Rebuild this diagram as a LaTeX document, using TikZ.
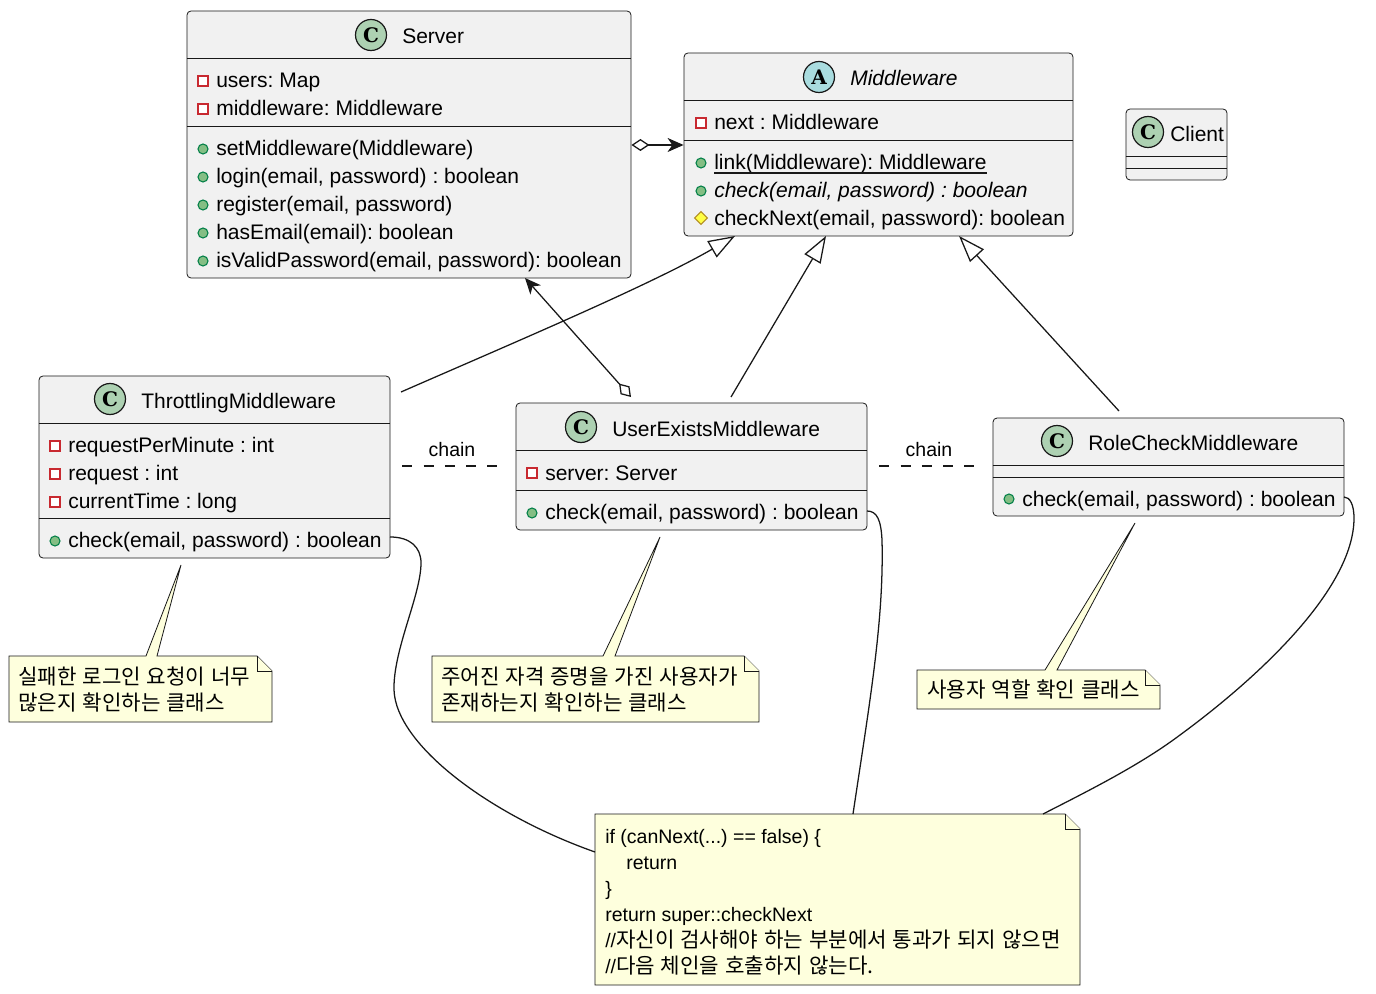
\documentclass[tikz,border=0pt]{standalone}
\usepackage{fontspec}
\setmainfont{Liberation Sans}
\newfontfamily\krfont[Scale=1.087, WordSpace=1.23]{Noto Sans CJK KR}
\newfontfamily\markfont{DejaVu Serif}
\usepackage{xcolor}
\usepackage{tikz}
\usetikzlibrary{arrows.meta, fit, shapes.geometric}
\definecolor{boxfill}{HTML}{F1F1F1}
\definecolor{ligne}{HTML}{181818}
\definecolor{markC}{HTML}{ADD1B2}
\definecolor{markA}{HTML}{A9DCDF}
\definecolor{notefill}{HTML}{FEFFDD}
\definecolor{privred}{HTML}{C82930}
\definecolor{pubgreen}{HTML}{038048}
\definecolor{pubfill}{HTML}{84BE84}
\definecolor{protgold}{HTML}{B38D22}
\definecolor{protfill}{HTML}{FFFF44}
\tikzset{
	classbox/.style={draw=ligne, fill=boxfill, line width=0.6pt, rounded corners=3pt, inner sep=0pt},
	divider/.style={draw=ligne, line width=0.6pt},
	classmark/.style={circle, draw=ligne, line width=0.9pt, minimum size=23.25pt, inner sep=0pt, font=\fontsize{15}{15}\selectfont\markfont\bfseries},
	title/.style={anchor=base west, inner sep=0pt, font=\fontsize{15.75}{18}\selectfont\frenchspacing},
	member/.style={anchor=base west, inner sep=0pt, font=\fontsize{15.78}{18}\selectfont\frenchspacing},
	privicon/.style={rectangle, draw=privred, fill=white, line width=0.8pt, minimum size=7.5pt, inner sep=0pt},
	pubicon/.style={circle, draw=pubgreen, fill=pubfill, line width=0.8pt, minimum size=7.5pt, inner sep=0pt},
	proticon/.style={diamond, draw=protgold, fill=protfill, line width=0.8pt, minimum size=10pt, inner sep=0pt},
	notebox/.style={draw=ligne, fill=notefill, line width=0.6pt, line join=miter},
	notetext/.style={anchor=north west, inner sep=0pt, align=left, font=\fontsize{14.625}{19.5}\selectfont\frenchspacing},
	lien/.style={draw=ligne, line width=0.95pt},
	chainlink/.style={lien, dash pattern=on 7.5pt off 8.44pt},
	chainlabel/.style={anchor=base, inner sep=0pt, font=\fontsize{14.625}{18}\selectfont},
	herite/.style={lien, -{Triangle[length=20pt, width=14pt, fill=white]}},
	agrege/.style={lien, {Diamond[length=13.5pt, width=9pt, fill=white]}-{Stealth[length=12pt, width=10.5pt, inset=3.5pt]}},
}
\begin{document}
\begin{tikzpicture}[x=0.75pt, y=-0.75pt]
	\useasboundingbox (0,0) rectangle (1376,994);

	% Server
	\node[classbox, fit={(187,11) (631,278)}] (server) {};
	\draw[divider] (server.west |- 0,58) -- (server.east |- 0,58);
	\draw[divider] (server.west |- 0,126) -- (server.east |- 0,126);
	\node[classmark, fill=markC] (serverMark) at (371,35) {C};
	\node[title] (serverTitle) at (402,44) {Server};
	\node[privicon] (srvUsersIcon) at (203,81) {};
	\node[member] (srvUsers) at (216,88) {users: Map};
	\node[privicon] (srvMiddleIcon) at (203,109) {};
	\node[member] (srvMiddle) at (216,116) {middleware: Middleware};
	\node[pubicon] (srvSetIcon) at (203,149) {};
	\node[member] (srvSet) at (216,156) {setMiddleware(Middleware)};
	\node[pubicon] (srvLoginIcon) at (203,177) {};
	\node[member] (srvLogin) at (216,184) {login(email, password) : boolean};
	\node[pubicon] (srvRegisterIcon) at (203,205) {};
	\node[member] (srvRegister) at (216,212) {register(email, password)};
	\node[pubicon] (srvHasIcon) at (203,233) {};
	\node[member] (srvHas) at (216,240) {hasEmail(email): boolean};
	\node[pubicon] (srvValidIcon) at (203,261) {};
	\node[member] (srvValid) at (216,268) {isValidPassword(email, password): boolean};

	% Middleware
	\node[classbox, fit={(684,53) (1073,236)}] (middleware) {};
	\draw[divider] (middleware.west |- 0,100) -- (middleware.east |- 0,100);
	\draw[divider] (middleware.west |- 0,140) -- (middleware.east |- 0,140);
	\node[classmark, fill=markA] (middlewareMark) at (819,77) {A};
	\node[title] (middlewareTitle) at (850,86) {\itshape Middleware};
	\node[privicon] (mwNextIcon) at (701,123) {};
	\node[member] (mwNext) at (714,130) {next : Middleware};
	\node[pubicon] (mwLinkIcon) at (701,163) {};
	\node[member] (mwLink) at (714,170) {link(Middleware): Middleware};
	\draw[lien] ([yshift=-2.2pt]mwLink.base west) -- ([yshift=-2.2pt]mwLink.base east);
	\node[pubicon] (mwCheckIcon) at (701,191) {};
	\node[member] (mwCheck) at (714,198) {\itshape check(email, password) : boolean};
	\node[proticon] (mwNextCheckIcon) at (701,218) {};
	\node[member] (mwNextCheck) at (714,226) {checkNext(email, password): boolean};

	% Client
	\node[classbox, fit={(1126,109) (1227,180)}] (client) {};
	\draw[divider] (client.west |- 0,156) -- (client.east |- 0,156);
	\draw[divider] (client.west |- 0,168) -- (client.east |- 0,168);
	\node[classmark, fill=markC] (clientMark) at (1148,132) {C};
	\node[title] (clientTitle) at (1170,142) {Client};

	% ThrottlingMiddleware
	\node[classbox, fit={(39,376) (390,558)}] (throttling) {};
	\draw[divider] (throttling.west |- 0,423) -- (throttling.east |- 0,423);
	\draw[divider] (throttling.west |- 0,518) -- (throttling.east |- 0,518);
	\node[classmark, fill=markC] (throttlingMark) at (110,399) {C};
	\node[title] (throttlingTitle) at (141,408) {ThrottlingMiddleware};
	\node[privicon] (thrRateIcon) at (55,446) {};
	\node[member] (thrRate) at (68,452) {requestPerMinute : int};
	\node[privicon] (thrRequestIcon) at (55,474) {};
	\node[member] (thrRequest) at (68,480) {request : int};
	\node[privicon] (thrTimeIcon) at (55,502) {};
	\node[member] (thrTime) at (68,508) {currentTime : long};
	\node[pubicon] (thrCheckIcon) at (55,541) {};
	\node[member] (thrCheck) at (68,547) {check(email, password) : boolean};

	% UserExistsMiddleware
	\node[classbox, fit={(516,403) (867,530)}] (userExists) {};
	\draw[divider] (userExists.west |- 0,450) -- (userExists.east |- 0,450);
	\draw[divider] (userExists.west |- 0,490) -- (userExists.east |- 0,490);
	\node[classmark, fill=markC] (userExistsMark) at (581,427) {C};
	\node[title] (userExistsTitle) at (612,436) {UserExistsMiddleware};
	\node[privicon] (ueServerIcon) at (532,473) {};
	\node[member] (ueServer) at (545,480) {server: Server};
	\node[pubicon] (ueCheckIcon) at (532,513) {};
	\node[member] (ueCheck) at (545,519) {check(email, password) : boolean};

	% RoleCheckMiddleware
	\node[classbox, fit={(993,418) (1344,516)}] (roleCheck) {};
	\draw[divider] (roleCheck.west |- 0,465) -- (roleCheck.east |- 0,465);
	\draw[divider] (roleCheck.west |- 0,477) -- (roleCheck.east |- 0,477);
	\node[classmark, fill=markC] (roleCheckMark) at (1057,441) {C};
	\node[title] (roleCheckTitle) at (1088,450) {RoleCheckMiddleware};
	\node[pubicon] (rcCheckIcon) at (1009,499) {};
	\node[member] (rcCheck) at (1022,506) {check(email, password) : boolean};

	% Notes
	\draw[notebox] (9,656) -- (146,656) -- (181,565) -- (157,656) -- (257,656) -- (272,671) -- (272,722) -- (9,722) -- cycle;
	\draw[notebox] (257,656) -- (257,671) -- (272,671);
	\node[notetext] (noteThrottling) at (18,666) {\strut{\krfont 실패한 로그인 요청이 너무}\\\strut{\krfont 많은지 확인하는 클래스}};

	\draw[notebox] (432,656) -- (603,656) -- (660,537) -- (615,656) -- (744,656) -- (759,671) -- (759,722) -- (432,722) -- cycle;
	\draw[notebox] (744,656) -- (744,671) -- (759,671);
	\node[notetext] (noteUserExists) at (441,666) {\strut{\krfont 주어진 자격 증명을 가진 사용자가}\\\strut{\krfont 존재하는지 확인하는 클래스}};

	\draw[notebox] (917,670) -- (1045,670) -- (1135,523) -- (1057,670) -- (1145,670) -- (1160,685) -- (1160,709) -- (917,709) -- cycle;
	\draw[notebox] (1145,670) -- (1145,685) -- (1160,685);
	\node[notetext] (noteRoleCheck) at (927,679.5) {\strut{\krfont 사용자 역할 확인 클래스}};

	\draw[notebox] (595,814) -- (1065,814) -- (1080,829) -- (1080,985) -- (595,985) -- cycle;
	\draw[notebox] (1065,814) -- (1065,829) -- (1080,829);
	\node[notetext] (noteCheck) at (605,825.3) {\strut if (canNext(...) == false) \{\\\strut\hspace*{15.75pt}return\\\strut\}\\\strut return super::checkNext\\\strut //{\krfont 자신이 검사해야 하는 부분에서 통과가 되지 않으면}\\\strut //{\krfont 다음 체인을 호출하지 않는다.}};

	% Points libres des liens
	\coordinate (srvIn) at (525,278);
	\coordinate (ueOut) at (631,397);
	\coordinate (mwThr) at (735,236);
	\coordinate (mwUe) at (826,236);
	\coordinate (mwRc) at (959,236);
	\coordinate (thrUp) at (401,392);
	\coordinate (ueUp) at (731,397);
	\coordinate (rcUp) at (1119,411);
	\coordinate (thrOut) at (390,537);
	\coordinate (ueSide) at (867,511);
	\coordinate (rcOut) at (1344,497);
	\coordinate (noteIn1) at (595,852);
	\coordinate (noteIn2) at (853,814);
	\coordinate (noteIn3) at (1043,814);

	% Liens
	\draw[agrege] (server.east |- 0,145) -- (middleware.west |- 0,145);
	\draw[agrege] (ueOut) -- (srvIn);
	\draw[herite] (thrUp) .. controls (520,340) and (650,285) .. (mwThr);
	\draw[herite] (ueUp) -- (mwUe);
	\draw[herite] (rcUp) -- (mwRc);
	\draw[chainlink, shorten <=9pt, shorten >=14.25pt] (throttling.east |- 0,466) -- (userExists.west |- 0,466);
	\node[chainlabel] (chainOne) at (452,456) {chain};
	\draw[chainlink, shorten <=9pt, shorten >=14.25pt] (userExists.east |- 0,466) -- (roleCheck.west |- 0,466);
	\node[chainlabel] (chainTwo) at (929,456) {chain};
	\draw[lien] (thrOut) .. controls (410,537) and (421,547) .. (421,563) .. controls (421,595) and (393,650) .. (394,690) .. controls (396,745) and (490,815) .. (noteIn1);
	\draw[lien] (ueSide) .. controls (877,511) and (881,520) .. (882,540) .. controls (884,620) and (870,700) .. (noteIn2);
	\draw[lien] (rcOut) .. controls (1350,497) and (1354,505) .. (1354,518) .. controls (1354,590) and (1255,680) .. (1180,735) .. controls (1140,765) and (1090,790) .. (noteIn3);

\end{tikzpicture}
\end{document}
